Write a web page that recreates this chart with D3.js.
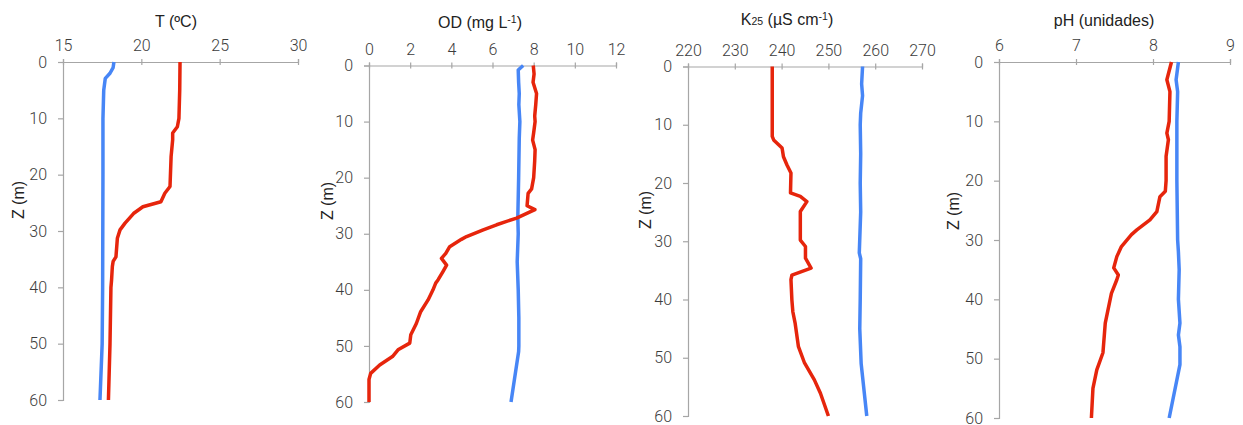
<!DOCTYPE html>
<html>
<head>
<meta charset="utf-8">
<script src="https://cdn.jsdelivr.net/npm/d3@7"></script>
<style>
body { margin: 0; background: #fff; }
</style>
</head>
<body>
<div id="chart"></div>
<script>
// depth profiles as [depth (m), value]; red and blue are the two profiles
var tempRed = [[0,22.47],[5,22.45],[10,22.4],[11.5,22.3],[12.6,22.0],[13.8,22.0],[16.8,21.9],[22.1,21.83],[23.3,21.5],[24.8,21.25],[25.7,20.1],[26.9,19.5],[28.6,18.96],[29.8,18.64],[31.3,18.47],[34.6,18.38],[35.4,18.2],[36.3,18.15],[38.7,18.1],[40,18.06],[50,18.0],[60,17.9]];
var tempBlue = [[0,18.25],[1,18.2],[2,18.0],[2.9,17.7],[5,17.6],[10,17.55],[20,17.55],[40,17.53],[50,17.5],[60,17.36]];

var odRed = [[0,7.98],[1.5,8.02],[3,7.97],[5,8.14],[7,8.1],[9,8.05],[10,8.07],[12,8.0],[13.3,7.95],[15,8.07],[17,8.05],[20,8.0],[22,7.9],[22.8,7.73],[25,7.68],[25.7,8.06],[27.2,7.17],[28.4,6.2],[29.3,5.55],[30.5,4.74],[31,4.49],[32.3,3.92],[33.5,3.73],[34.4,3.52],[35.6,3.77],[36.7,3.6],[38.2,3.36],[38.8,3.24],[40,3.11],[41.8,2.87],[43.9,2.51],[46,2.3],[48,2.03],[49.5,1.98],[50.7,1.41],[51.9,1.14],[53.4,0.52],[54.9,0.08],[56,0],[60,0]];
var odBlue = [[0,7.49],[0.8,7.25],[3,7.27],[5,7.3],[7,7.28],[10,7.33],[13,7.3],[20,7.27],[27,7.23],[30,7.25],[35,7.2],[40,7.25],[45,7.28],[50,7.28],[51,7.27],[60,6.9]];

var condRed = [[0,238.0],[12,238.0],[12.6,238.3],[14.0,240.1],[15.5,240.4],[16.9,241.15],[18.3,242.0],[21.7,241.9],[22.3,244.0],[23.2,245.4],[24.9,244.0],[29.8,244.0],[30.9,245.1],[32.9,245.1],[34.6,246.3],[35.8,242.2],[36.6,242.0],[40.1,242.2],[42.1,242.4],[44.1,242.9],[48.1,243.6],[50.9,244.9],[53.8,247.0],[56.1,248.3],[60,250.0]];
var condBlue = [[0,257.3],[3,257.1],[5,257.3],[8,256.9],[10,256.8],[15,256.9],[20,256.8],[25,256.9],[32,256.6],[33,256.9],[40,256.8],[45,256.7],[51,257.0],[60,258.2]];

var phRed = [[0,8.24],[3,8.18],[5,8.22],[10,8.21],[12,8.18],[13.1,8.2],[15.9,8.17],[20,8.17],[21.8,8.16],[22.7,8.09],[25.2,8.05],[26.6,7.96],[28.3,7.79],[29.1,7.72],[31.1,7.59],[32.8,7.53],[34.7,7.49],[35.9,7.55],[36.7,7.53],[39,7.46],[44,7.38],[49,7.35],[51.9,7.27],[55,7.22],[60,7.2]];
var phBlue = [[0,8.33],[3,8.30],[5,8.32],[10,8.31],[20,8.31],[30,8.32],[32,8.33],[35,8.34],[40,8.33],[44,8.35],[46,8.33],[48,8.35],[51,8.35],[60,8.21]];

// tick labels
var tempTicks = [15, 20, 25, 30];
var odTicks = [0, 2, 4, 6, 8, 10, 12];
var condTicks = [220, 230, 240, 250, 260, 270];
var phTicks = [6, 7, 8, 9];
var depthTicks = [0, 10, 20, 30, 40, 50, 60];

var width = 1243,
    height = 425;

var redColor = "#e6250c",
    blueColor = "#4786f6",
    axisColor = "#a6a6a6";

// titles split in pieces so sub/superscripts can be small
var panels = [
    { title: [["T (ºC)", ""]], ticks: tempTicks, red: tempRed, blue: tempBlue,
      box: { left: 63, right: 298, top: 62, bottom: 400 }, titleX: 176, titleY: 27, zX: 18, zY: 200 },
    { title: [["OD (mg L", ""], ["-1", "sup"], [")", ""]], ticks: odTicks, red: odRed, blue: odBlue,
      box: { left: 369, right: 616, top: 65.5, bottom: 402 }, titleX: 480, titleY: 28, zX: 327, zY: 201 },
    { title: [["K", ""], ["25", "sub"], [" (µS cm", ""], ["-1", "sup"], [")", ""]], ticks: condTicks, red: condRed, blue: condBlue,
      box: { left: 688, right: 922, top: 66.5, bottom: 416 }, titleX: 787, titleY: 25, zX: 645, zY: 210 },
    { title: [["pH (unidades)", ""]], ticks: phTicks, red: phRed, blue: phBlue,
      box: { left: 999, right: 1230, top: 62, bottom: 418 }, titleX: 1104, titleY: 26, zX: 953, zY: 211 }
];

var svg = d3.select("#chart").append("svg")
    .attr("width", width)
    .attr("height", height)
    .style("font-family", "'Liberation Sans', Arial, sans-serif");

panels.forEach(drawPanel);

function drawPanel(p) {
    var x = d3.scaleLinear()
        .domain(d3.extent(p.ticks))
        .range([p.box.left, p.box.right]);
    var y = d3.scaleLinear()
        .domain(d3.extent(depthTicks))
        .range([p.box.top, p.box.bottom]);

    var g = svg.append("g");

    // top axis, ticks cross the line
    var xAxis = g.append("g")
        .attr("transform", "translate(0," + p.box.top + ")")
        .call(d3.axisTop(x).tickValues(p.ticks).tickFormat(d3.format("d")).tickSize(3).tickPadding(8));
    xAxis.selectAll(".tick line").attr("y1", 3);

    var yAxis = g.append("g")
        .attr("transform", "translate(" + p.box.left + ",0)")
        .call(d3.axisLeft(y).tickValues(depthTicks).tickSize(5).tickPadding(11));

    g.selectAll(".domain, .tick line")
        .attr("stroke", axisColor)
        .attr("stroke-width", 1.2);
    g.selectAll(".tick text")
        .attr("fill", "#3c3c3c")
        .style("font-family", "Roboto, 'Liberation Sans', sans-serif")
        .style("font-weight", 300)
        .style("font-size", "16px");

    // title
    var title = g.append("text")
        .attr("x", p.titleX)
        .attr("y", p.titleY)
        .attr("text-anchor", "middle")
        .attr("fill", "#222")
        .style("font-size", "16px");
    title.selectAll("tspan")
        .data(p.title)
        .enter()
        .append("tspan")
        .attr("dy", function (d, i) {
            var prev = i > 0 ? p.title[i - 1][1] : "";
            var shift = d[1] === "sup" ? -5 : 0;
            var back = prev === "sup" ? 5 : 0;
            return shift + back;
        })
        .style("font-size", function (d) { return d[1] ? "10.5px" : "16px"; })
        .text(function (d) { return d[0]; });

    // depth axis title
    g.append("text")
        .attr("transform", "translate(" + p.zX + "," + p.zY + ") rotate(-90)")
        .attr("text-anchor", "middle")
        .attr("dy", "0.35em")
        .attr("fill", "#222")
        .style("font-size", "16px")
        .text("Z (m)");

    var line = d3.line()
        .x(function (d) { return x(d[1]); })
        .y(function (d) { return y(d[0]); });

    g.append("path")
        .datum(p.blue)
        .attr("d", line)
        .attr("fill", "none")
        .attr("stroke", blueColor)
        .attr("stroke-width", 3.5)
        .attr("stroke-linejoin", "round");

    g.append("path")
        .datum(p.red)
        .attr("d", line)
        .attr("fill", "none")
        .attr("stroke", redColor)
        .attr("stroke-width", 3.5)
        .attr("stroke-linejoin", "round");
}
</script>
</body>
</html>
